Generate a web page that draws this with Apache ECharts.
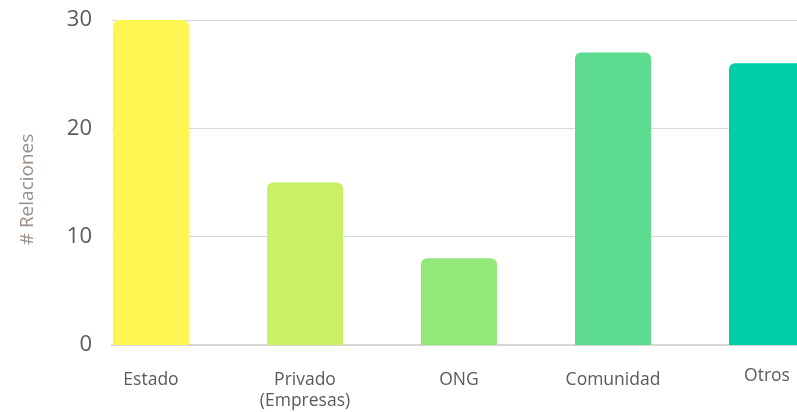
<!DOCTYPE html>
<html>
<head>
<meta charset="utf-8">
<script src="https://cdn.jsdelivr.net/npm/echarts@6/dist/echarts.min.js"></script>
<style>
  html, body { margin: 0; padding: 0; background: #fff; }
  #chart { width: 797px; height: 412px; }
</style>
</head>
<body>
<div id="chart"></div>
<script>
// Relationship counts per actor type
const categories = ['Estado', 'Privado\n(Empresas)', 'ONG', 'Comunidad', 'Otros'];
const relaciones = [30, 15, 8, 27, 26];
const barColors = ['#FFF553', '#C8F163', '#93E87A', '#5DDB8F', '#00CEA6'];
const yTicks = { min: 0, max: 30, step: 10 };

const chart = echarts.init(document.getElementById('chart'), null, { renderer: 'canvas' });

const font = '"Open Sans", "Liberation Sans", sans-serif';

// the last label sits slightly higher than the others
const xData = categories.map((c, i) =>
  i === categories.length - 1
    ? { value: c, textStyle: { padding: [-4, 76, 0, 0] } }
    : c
);

chart.setOption({
  animation: false,
  grid: {
    left: 112, top: 20, bottom: 67, right: -85,
    containLabel: false,
    outerBoundsMode: 'none'
  },
  xAxis: {
    type: 'category',
    data: xData,
    axisTick: { show: false },
    axisLine: { lineStyle: { color: '#d6d6d6', width: 2 } },
    axisLabel: {
      interval: 0,
      hideOverlap: false,
      margin: 25,
      fontFamily: font,
      fontSize: 17.5,
      lineHeight: 21,
      color: '#5a5a5a',
      padding: [0, 76, 0, 0]
    }
  },
  yAxis: {
    type: 'value',
    min: yTicks.min,
    max: yTicks.max,
    interval: yTicks.step,
    name: '# Relaciones',
    nameLocation: 'middle',
    nameGap: 75,
    nameTextStyle: { fontFamily: font, fontSize: 19, color: '#9b8f87', padding: [0, 0, 0, -14] },
    axisLine: { show: false },
    axisTick: { show: false },
    splitLine: { lineStyle: { color: '#d9d9d9', width: 1 } },
    axisLabel: { margin: 20, fontFamily: font, fontSize: 22, color: '#5a5a5a' }
  },
  series: [
    {
      type: 'bar',
      barWidth: 76,
      barGap: '0%',
      data: relaciones.map((v, i) => ({ value: v, itemStyle: { color: barColors[i] } })),
      itemStyle: { borderRadius: [6, 6, 0, 0] }
    },
    {
      // empty companion series keeps each bar in the left half of its band
      type: 'bar',
      barWidth: 76,
      data: relaciones.map(() => null),
      silent: true
    }
  ]
});
</script>
</body>
</html>
